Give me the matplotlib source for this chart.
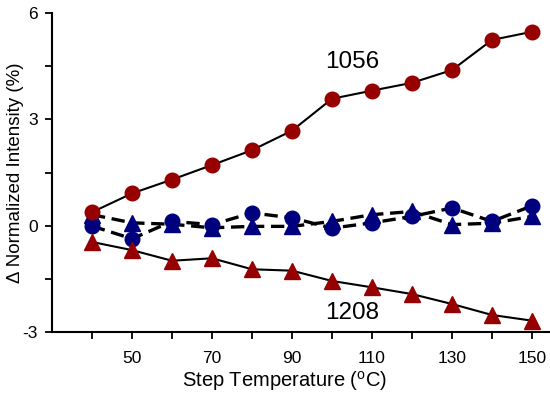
import matplotlib
matplotlib.use("Agg")
import matplotlib.pyplot as plt
from matplotlib.ticker import MultipleLocator

plt.rcParams['font.family'] = ['Liberation Sans', 'DejaVu Sans']
plt.rcParams['mathtext.fontset'] = 'custom'
plt.rcParams['mathtext.rm'] = 'Liberation Sans'
plt.rcParams['axes.unicode_minus'] = False

temps = [40, 50, 60, 70, 80, 90, 100, 110, 120, 130, 140, 150]
band_1056 = [0.38, 0.91, 1.30, 1.71, 2.13, 2.68, 3.58, 3.81, 4.03, 4.39, 5.24, 5.47]
band_1208 = [-0.46, -0.69, -0.99, -0.92, -1.23, -1.27, -1.56, -1.74, -1.93, -2.21, -2.52, -2.68]
ctrl_circle = [-0.01, -0.37, 0.12, 0.03, 0.36, 0.22, -0.07, 0.08, 0.26, 0.50, 0.12, 0.56]
ctrl_triangle = [0.31, 0.08, 0.04, -0.06, -0.02, -0.02, 0.12, 0.31, 0.40, 0.03, 0.07, 0.26]

red = '#960000'
blue = '#00007f'

fig = plt.figure(figsize=(5.5, 3.96), dpi=100)
ax = fig.add_axes([52 / 550, 64 / 396, 498 / 550, 319 / 396])

ax.plot(temps, ctrl_triangle, color='black', ls=(0, (4, 2)), lw=2.4,
        marker='^', ms=11, mfc=blue, mec=blue, zorder=3)
ax.plot(temps, ctrl_circle, color='black', ls=(0, (4, 2)), lw=2.4,
        marker='o', ms=10.5, mfc=blue, mec=blue, zorder=3)
ax.plot(temps, band_1208, color='black', lw=1.5,
        marker='^', ms=11, mfc=red, mec=red, zorder=4)
ax.plot(temps, band_1056, color='black', lw=1.5,
        marker='o', ms=10.5, mfc=red, mec=red, zorder=4)

ax.text(105, 4.63, '1056', fontsize=17.5, ha='center', va='center')
ax.text(105, -2.45, '1208', fontsize=17.5, ha='center', va='center')

ax.set_xlim(30, 154.5)
ax.set_ylim(-3, 6)
ax.set_xticks([50, 70, 90, 110, 130, 150])
ax.set_xticks([40, 60, 80, 100, 120, 140], minor=True)
ax.set_yticks([-3, 0, 3, 6])
ax.yaxis.set_minor_locator(MultipleLocator(1.5))

for side in ['top', 'right']:
    ax.spines[side].set_visible(False)
for side in ['left', 'bottom']:
    ax.spines[side].set_linewidth(1.5)

ax.tick_params(which='both', direction='out', length=5, width=1.3)
ax.tick_params(axis='x', which='major', labelsize=12.5, pad=9)
ax.tick_params(axis='y', which='major', labelsize=12.5, pad=5)

ax.set_xlabel('Step Temperature ($^\\mathregular{o}$C)', fontsize=14.5)
ax.set_ylabel('\u0394 Normalized Intensity (%)', fontsize=13.5)
ax.xaxis.set_label_coords(0.466, -0.117)
ax.yaxis.set_label_coords(-0.056, 0.5)

fig.savefig('out.png', dpi=100)
